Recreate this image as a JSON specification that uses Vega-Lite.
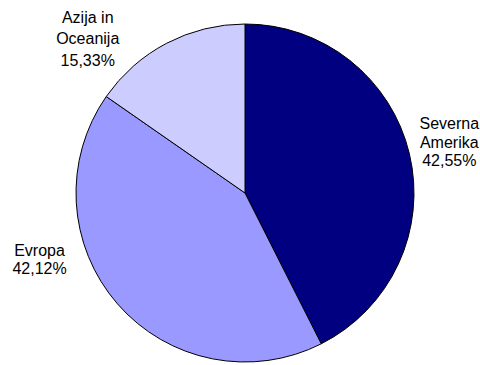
{
  "$schema": "https://vega.github.io/schema/vega-lite/v6.json",
  "width": 490,
  "height": 386,
  "autosize": "none",
  "padding": 0,
  "background": "white",
  "config": {"view": {"stroke": null}},
  "data": {
    "values": [
      {"region": "Severna Amerika", "label": "Severna\nAmerika\n42,55%", "pct": 42.55, "order": 1},
      {"region": "Evropa", "label": "Evropa\n42,12%", "pct": 42.12, "order": 2},
      {"region": "Azija in Oceanija", "label": "Azija in\nOceanija\n15,33%", "pct": 15.33, "order": 3}
    ]
  },
  "transform": [
    {"stack": "pct", "groupby": [], "sort": [{"field": "order", "order": "ascending"}], "as": ["t0", "t1"]},
    {"calculate": "(datum.t0 + datum.t1) / 2", "as": "tmid"}
  ],
  "layer": [
    {
      "mark": {"type": "arc", "radius": 169, "stroke": "black", "strokeWidth": 1},
      "encoding": {
        "theta": {"field": "t0", "type": "quantitative", "scale": {"domain": [0, 100]}},
        "theta2": {"field": "t1"},
        "color": {
          "field": "region",
          "type": "nominal",
          "sort": null,
          "scale": {"domain": ["Severna Amerika", "Evropa", "Azija in Oceanija"], "range": ["#000080", "#9999FF", "#CCCCFF"]},
          "legend": null
        }
      }
    },
    {
      "transform": [{"filter": "datum.region === 'Severna Amerika'"}],
      "mark": {"type": "text", "radius": 210, "dy": -20, "align": "center", "baseline": "middle", "font": "Liberation Sans", "fontSize": 16, "lineBreak": "\n", "lineHeight": 18.5, "color": "black"},
      "encoding": {"theta": {"field": "tmid", "type": "quantitative", "scale": {"domain": [0, 100]}}, "text": {"field": "label"}}
    },
    {
      "transform": [{"filter": "datum.region === 'Evropa'"}],
      "mark": {"type": "text", "radius": 210, "dx": -47, "dy": -80, "align": "center", "baseline": "middle", "font": "Liberation Sans", "fontSize": 16, "lineBreak": "\n", "lineHeight": 18.5, "color": "black"},
      "encoding": {"theta": {"field": "tmid", "type": "quantitative", "scale": {"domain": [0, 100]}}, "text": {"field": "label"}}
    },
    {
      "transform": [{"filter": "datum.region === 'Azija in Oceanija'"}],
      "mark": {"type": "text", "radius": 210, "dx": -60, "dy": 11, "align": "center", "baseline": "middle", "font": "Liberation Sans", "fontSize": 16, "lineBreak": "\n", "lineHeight": 21.5, "color": "black"},
      "encoding": {"theta": {"field": "tmid", "type": "quantitative", "scale": {"domain": [0, 100]}}, "text": {"field": "label"}}
    }
  ]
}
